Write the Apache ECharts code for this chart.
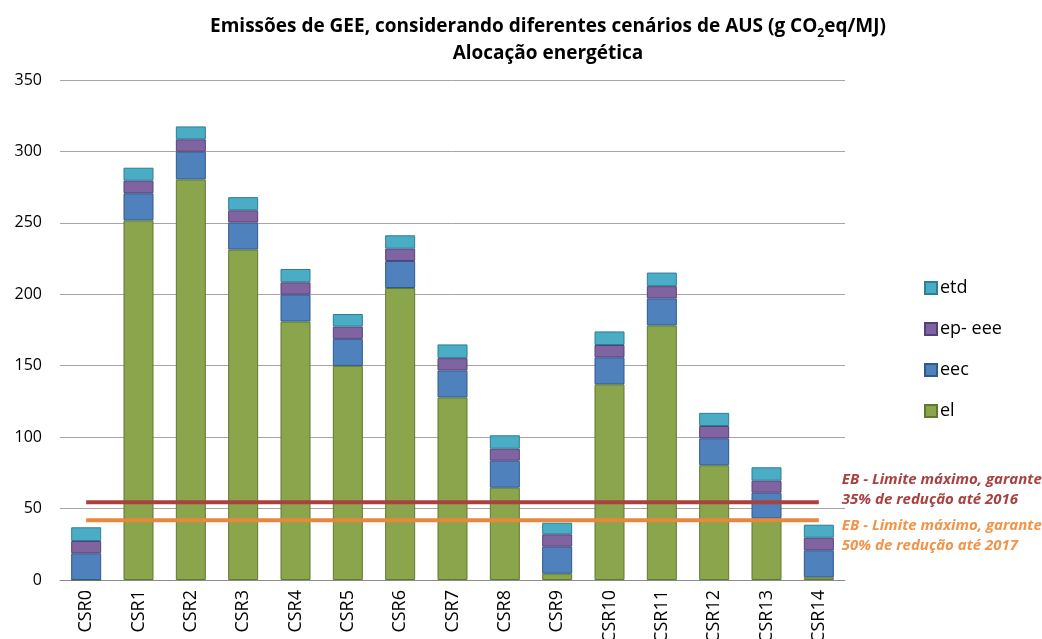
<!DOCTYPE html>
<html>
<head>
<meta charset="utf-8">
<script src="https://cdn.jsdelivr.net/npm/echarts@6/dist/echarts.min.js"></script>
<style>
  html, body { margin: 0; padding: 0; background: #fff; }
  #chart { width: 1042px; height: 639px; }
</style>
</head>
<body>
<div id="chart"></div>
<script>
// categorias (cenários)
const categories = ['CSR0', 'CSR1', 'CSR2', 'CSR3', 'CSR4', 'CSR5', 'CSR6', 'CSR7',
  'CSR8', 'CSR9', 'CSR10', 'CSR11', 'CSR12', 'CSR13', 'CSR14']

// componentes empilhados (g CO2eq/MJ)
const el = [0, 251.7, 280.4, 231.3, 180.9, 149.9, 204.4, 127.8, 64.6, 4.4, 137.0, 178.2, 80.3, 43.2, 1.9]
const eec = [18.7, 19.0, 19.4, 18.9, 18.9, 18.9, 18.9, 18.9, 18.9, 18.9, 18.9, 18.9, 18.9, 17.9, 18.9]
const epEee = [8.6, 8.8, 8.7, 8.6, 8.6, 8.6, 8.6, 8.6, 8.4, 8.7, 8.6, 8.6, 8.6, 8.4, 8.8]
const etd = [9.6, 9.1, 9.0, 9.2, 9.3, 8.8, 9.4, 9.6, 9.4, 8.1, 9.5, 9.5, 9.2, 9.4, 9.1]

// limites EB
const limite2016 = categories.map(() => 54.5)
const limite2017 = categories.map(() => 41.9)

const FONT = '"Open Sans", "Liberation Sans", sans-serif'

const barSeries = (name, data, color, border) => ({
  name,
  type: 'bar',
  stack: 'total',
  data,
  barWidth: 30,
  itemStyle: { color, borderColor: border, borderWidth: 1 }
})

const limitSeries = (data, color, text, labelColor, dy) => ({
  type: 'line',
  data,
  symbol: 'none',
  silent: true,
  z: 5,
  lineStyle: { color, width: 4 },
  endLabel: {
    show: true,
    formatter: text,
    color: labelColor,
    fontFamily: FONT,
    fontSize: 15,
    fontWeight: 'bold',
    fontStyle: 'italic',
    lineHeight: 20,
    align: 'left',
    distance: 23,
    offset: [0, dy]
  }
})

const chart = echarts.init(document.getElementById('chart'))

chart.setOption({
  backgroundColor: '#fff',
  animation: false,
  textStyle: { fontFamily: FONT },
  title: {
    text: 'Emissões de GEE, considerando diferentes cenários de AUS (g CO{sub|2}eq/MJ)\nAlocação energética',
    left: 543,
    textAlign: 'center',
    top: 8,
    textStyle: {
      fontSize: 19,
      fontWeight: 'bold',
      color: '#000',
      lineHeight: 27,
      rich: {
        sub: { fontSize: 12, fontWeight: 'bold', verticalAlign: 'bottom', padding: [9, 0, 0, 0] }
      }
    }
  },
  legend: {
    orient: 'vertical',
    left: 919,
    top: 274,
    icon: 'rect',
    itemWidth: 12,
    itemHeight: 12,
    itemGap: 23,
    data: ['etd', 'ep- eee', 'eec', 'el'],
    textStyle: { fontSize: 18, color: '#000', padding: [0, 0, 0, -2] }
  },
  grid: { left: 60, right: 197, top: 80, bottom: 59, outerBoundsMode: 'none' },
  xAxis: {
    type: 'category',
    data: categories,
    axisTick: { show: false },
    axisLine: { lineStyle: { color: '#8C8C8C', width: 1 } },
    axisLabel: { rotate: 90, fontSize: 18, color: '#000', margin: 10 }
  },
  yAxis: {
    type: 'value',
    min: 0,
    max: 350,
    interval: 50,
    axisLine: { show: false },
    axisTick: { show: false },
    axisLabel: { fontSize: 16, color: '#000', margin: 18 },
    splitLine: { lineStyle: { color: '#A6A6A6', width: 1 } }
  },
  series: [
    barSeries('el', el, '#8AA54B', '#5F7A2E'),
    barSeries('eec', eec, '#4F81BD', '#2E5A8C'),
    barSeries('ep- eee', epEee, '#8064A2', '#574076'),
    barSeries('etd', etd, '#4BACC6', '#2B7F97'),
    limitSeries(limite2016, '#A9413F', 'EB - Limite máximo, garante\n35% de redução até 2016', '#A9413F', -12),
    limitSeries(limite2017, '#E8873E', 'EB - Limite máximo, garante\n50% de redução até 2017', '#F2934A', 16)
  ]
})
</script>
</body>
</html>
